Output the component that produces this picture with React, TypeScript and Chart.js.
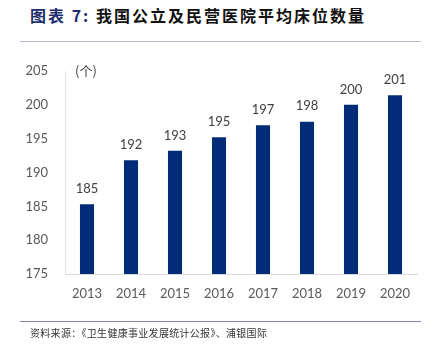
import React, { useEffect, useRef } from "react";
import { Chart, registerables } from "chart.js";

Chart.register(...registerables);

const years = ["2013", "2014", "2015", "2016", "2017", "2018", "2019", "2020"];
const beds = [185.3, 191.8, 193.2, 195.2, 197.0, 197.5, 200.0, 201.4];
const labels = ["185", "192", "193", "195", "197", "198", "200", "201"];
const yMin = 175;
const yMax = 205;
const yStep = 5;
const unitLabel = "(个)";
const titlePrefix = "图表 7:";
const titleText = "我国公立及民营医院平均床位数量";
const sourceText = "资料来源：《卫生健康事业发展统计公报》、浦银国际";

const FONT = "Lato, 'Noto Sans CJK SC', sans-serif";

export default function App() {
  const ref = useRef<HTMLCanvasElement>(null);

  useEffect(() => {
    if (!ref.current) return;
    const labelPlugin = {
      id: "labels",
      afterDatasetsDraw(chart: any) {
        const ctx = chart.ctx;
        const meta = chart.getDatasetMeta(0);
        ctx.save();
        ctx.fillStyle = "#404040";
        ctx.font = `13px ${FONT}`;
        ctx.textAlign = "center";
        ctx.textBaseline = "bottom";
        meta.data.forEach((bar: any, i: number) => {
          ctx.fillText(labels[i], bar.x, bar.y - 9);
        });
        ctx.font = `13px 'Noto Sans CJK SC', sans-serif`;
        ctx.textBaseline = "middle";
        ctx.fillText(unitLabel, chart.chartArea.left + 21, chart.chartArea.top);
        ctx.restore();
      },
    };
    const chart = new Chart(ref.current, {
      type: "bar",
      data: {
        labels: years,
        datasets: [
          {
            data: beds,
            backgroundColor: "#022B78",
            categoryPercentage: 1,
            barPercentage: 0.32,
          },
        ],
      },
      options: {
        responsive: false,
        animation: false,
        layout: { padding: { top: 71, right: 16, left: 0, bottom: 0 } },
        plugins: { legend: { display: false }, tooltip: { enabled: false } },
        scales: {
          x: {
            grid: { display: false, drawTicks: false },
            border: { display: true, color: "#D9D9D9" },
            ticks: { color: "#595959", font: { family: FONT, size: 13 }, padding: 12 },
            afterFit(scale: any) {
              scale.height = 76;
            },
          },
          y: {
            min: yMin,
            max: yMax,
            grid: { display: false, drawTicks: false },
            border: { display: true, color: "#E3E3E3" },
            ticks: { stepSize: yStep, color: "#595959", font: { family: FONT, size: 13 }, padding: 17 },
            afterFit(scale: any) {
              scale.width = 65;
            },
          },
        },
      },
      plugins: [labelPlugin],
    });
    return () => chart.destroy();
  }, []);

  return (
    <div
      style={{
        position: "fixed",
        left: 0,
        top: 0,
        width: 433,
        height: 350,
        background: "#fff",
        overflow: "hidden",
      }}
    >
      <div
        style={{
          position: "absolute",
          left: 30,
          top: 4,
          height: 22,
          lineHeight: "22px",
          fontFamily: "'Noto Sans CJK SC', sans-serif",
          fontWeight: 700,
          fontSize: 16,
          letterSpacing: 2,
          whiteSpace: "nowrap",
          color: "#111",
        }}
      >
        <span style={{ color: "#1F2E6E" }}>{titlePrefix}</span> {titleText}
      </div>
      <div style={{ position: "absolute", left: 20, top: 41, width: 401, height: 1, background: "#B4B4D0" }} />
      <canvas ref={ref} width={433} height={350} style={{ position: "absolute", left: 0, top: 0 }} />
      <div style={{ position: "absolute", left: 20, top: 321, width: 401, height: 1, background: "#8585B2" }} />
      <div
        style={{
          position: "absolute",
          left: 30,
          top: 326,
          height: 14,
          lineHeight: "14px",
          fontFamily: "'Noto Sans CJK SC', sans-serif",
          fontSize: 10,
          letterSpacing: 0.3,
          fontKerning: "none",
          fontFeatureSettings: '"halt" 0, "chws" 0, "palt" 0',
          whiteSpace: "nowrap",
          color: "#333",
        }}
      >
        {sourceText}
      </div>
    </div>
  );
}
